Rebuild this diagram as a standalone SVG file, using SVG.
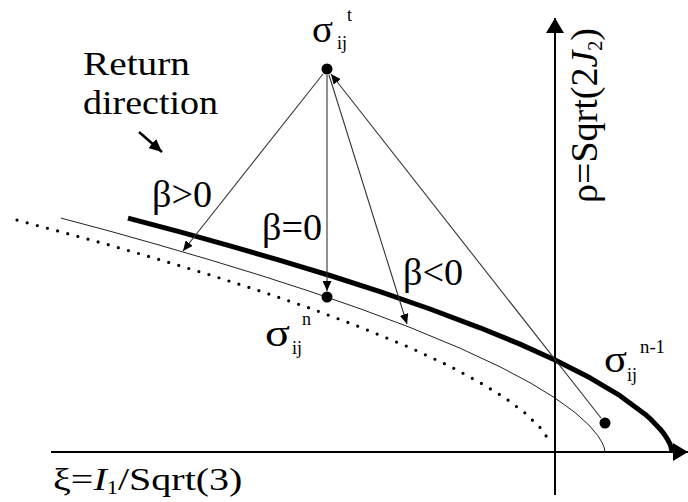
<svg xmlns="http://www.w3.org/2000/svg" width="688" height="502" viewBox="0 0 688 502" font-family="'Liberation Serif', 'Times New Roman', Times, serif">
<style>
  text { font-family: "Liberation Serif", "Times New Roman", Times, serif; fill: #000; }
  .big { font-size: 38px; }
  .sub { font-size: 18px; }
  .conn { stroke: #333; stroke-width: 1.1; fill: none; }
  .axis { stroke: #000; stroke-width: 2; fill: none; }
  .dot { fill: #000; }
</style>
<defs>
  <marker id="ah" markerUnits="userSpaceOnUse" markerWidth="11" markerHeight="9" refX="10" refY="4.5" orient="auto">
    <path d="M0,0 L10,4.5 L0,9 z" fill="#000"/>
  </marker>
  <marker id="ahBig" markerUnits="userSpaceOnUse" markerWidth="14" markerHeight="12" refX="13" refY="6" orient="auto">
    <path d="M0,0 L13,6 L0,12 z" fill="#000"/>
  </marker>
  <marker id="axisHead" markerUnits="userSpaceOnUse" markerWidth="16" markerHeight="18" refX="15" refY="9" orient="auto">
    <path d="M0,0 L15,9 L0,18 z" fill="#000"/>
  </marker>
</defs>

<g id="axes">
  <line class="axis" x1="51" y1="452" x2="688" y2="452" marker-end="url(#axisHead)"/>
  <line class="axis" x1="555" y1="495" x2="555" y2="18" marker-end="url(#axisHead)"/>
</g>

<g id="curves">
  <polyline id="dotted-surface" fill="none" stroke="#000" stroke-width="3.2" stroke-linecap="round" stroke-dasharray="0 10.5"
    points="17,220.1 60,231.6 110,245.2 160,259.8 210,274.9 260,291 310,308.2 360,327 410,347.6 450,366.3 480,382.6 505,397.9 525,413 540,427.5 549,440"/>
  <polyline id="thin-surface" fill="none" stroke="#222" stroke-width="1" stroke-linejoin="round"
    points="61,218.1 110,231.2 160,245.3 210,259.9 260,275.2 310,291.4 360,308.7 410,327.4 460,348.2 500,366.8 530,382.7 555,398 575,412.5 590,426.2 598,435.9 602,442.4 604,447.1 605,452"/>
  <polyline id="thick-surface" fill="none" stroke="#000" stroke-width="5" stroke-linejoin="round"
    points="128,218.1 180,231.9 230,245.8 280,260.4 330,275.5 380,291.7 430,309 480,327.8 520,344.1 555,360 590,377.8 620,395.7 645,414.2 650,418.6 660,428.9 664,433.9 668,440.1 670,444.2 671,446.9 672,452"/>
</g>

<g id="connectors">
  <line class="conn" x1="323" y1="74" x2="183" y2="251" marker-end="url(#ah)"/>
  <line class="conn" x1="327" y1="75" x2="327" y2="291" marker-end="url(#ah)"/>
  <line class="conn" x1="329" y1="75" x2="407" y2="324" marker-end="url(#ah)"/>
  <line class="conn" x1="601" y1="418" x2="331" y2="74" marker-end="url(#ah)"/>
  <line stroke="#000" stroke-width="2.5" x1="139" y1="132" x2="162" y2="152" marker-end="url(#ahBig)"/>
</g>

<g id="sigma-t">
  <circle class="dot" cx="327" cy="69" r="5.5"/>
  <text class="big" x="312" y="42" textLength="21" lengthAdjust="spacingAndGlyphs">σ</text>
  <text class="sub" x="337" y="49">ij</text>
  <text class="sub" x="347" y="21">t</text>
</g>

<g id="sigma-n">
  <circle class="dot" cx="327" cy="297" r="5.5"/>
  <text class="big" x="265" y="346" textLength="25" lengthAdjust="spacingAndGlyphs">σ</text>
  <text class="sub" x="292" y="354">ij</text>
  <text class="sub" x="302" y="325">n</text>
</g>

<g id="sigma-n-1">
  <circle class="dot" cx="605" cy="423" r="5.5"/>
  <text class="big" x="604" y="372" textLength="23" lengthAdjust="spacingAndGlyphs">σ</text>
  <text class="sub" x="627" y="381">ij</text>
  <text class="sub" x="640" y="353" textLength="25" lengthAdjust="spacingAndGlyphs">n-1</text>
</g>

<g id="labels">
  <text x="83" y="75" font-size="33" textLength="107" lengthAdjust="spacingAndGlyphs">Return</text>
  <text x="83" y="114" font-size="33" textLength="135" lengthAdjust="spacingAndGlyphs">direction</text>
  <text class="big" x="152" y="207" textLength="60" lengthAdjust="spacingAndGlyphs">β&gt;0</text>
  <text class="big" x="262" y="240" textLength="60" lengthAdjust="spacingAndGlyphs">β=0</text>
  <text class="big" x="403" y="285" textLength="60" lengthAdjust="spacingAndGlyphs">β&lt;0</text>
  <text font-size="32" transform="translate(53,490) scale(1.25,1)">ξ=<tspan font-style="italic">I</tspan><tspan font-size="18" dy="4">1</tspan><tspan dy="-4">/Sqrt(3)</tspan></text>
  <text font-size="38" transform="translate(597,203) rotate(-90)">ρ=Sqrt(2<tspan font-style="italic">J</tspan><tspan font-size="20" dy="5">2</tspan><tspan dy="-5">)</tspan></text>
</g>
</svg>
